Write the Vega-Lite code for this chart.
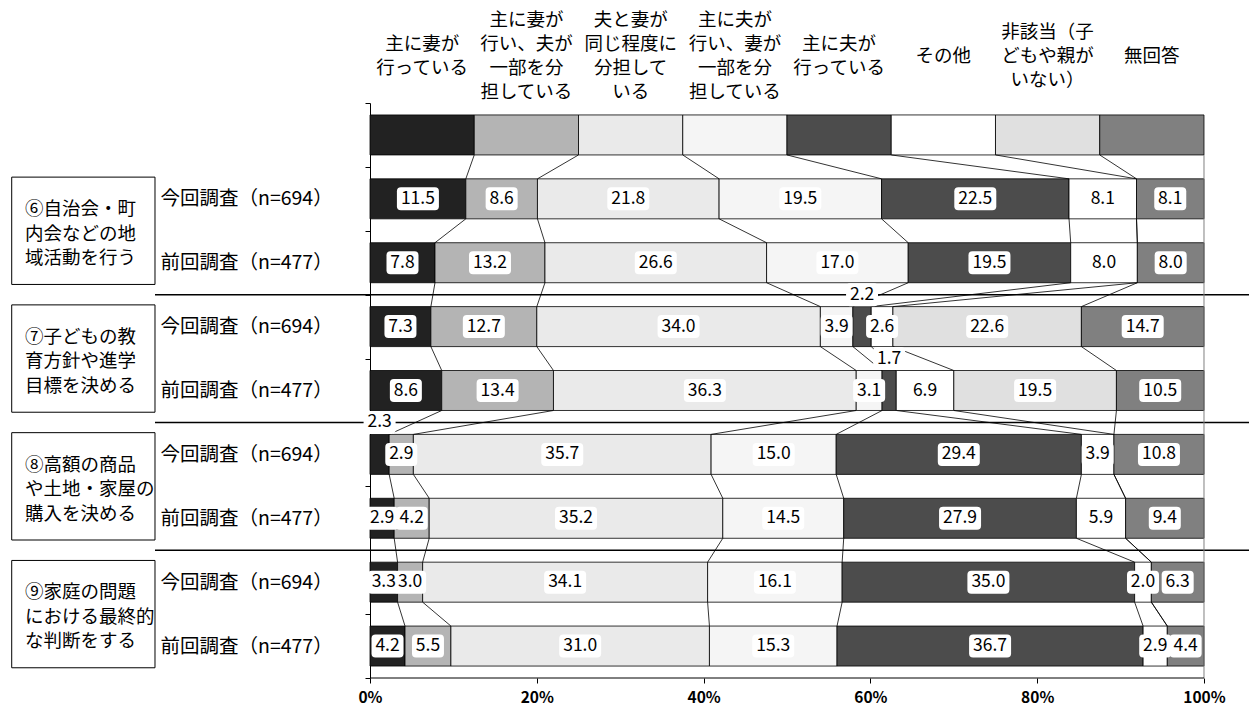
{
  "$schema": "https://vega.github.io/schema/vega-lite/v6.json",
  "width": 1249,
  "height": 575,
  "autosize": {"type": "none"},
  "padding": {"left": 0, "top": 103, "right": 0, "bottom": 35},
  "background": "#ffffff",
  "config": {"view": {"stroke": null}, "font": "Noto Sans CJK JP", "text": {"font": "Noto Sans CJK JP"}, "axis": {"title": null, "grid": false}},
  "datasets": {
    "bars": [
      {"idx": 0, "k": 1, "v": 12.5}, {"idx": 0, "k": 2, "v": 12.5}, {"idx": 0, "k": 3, "v": 12.5}, {"idx": 0, "k": 4, "v": 12.5},
      {"idx": 0, "k": 5, "v": 12.5}, {"idx": 0, "k": 6, "v": 12.5}, {"idx": 0, "k": 7, "v": 12.5}, {"idx": 0, "k": 8, "v": 12.5},
      {"idx": 1, "k": 1, "v": 11.5}, {"idx": 1, "k": 2, "v": 8.6}, {"idx": 1, "k": 3, "v": 21.8}, {"idx": 1, "k": 4, "v": 19.5},
      {"idx": 1, "k": 5, "v": 22.5}, {"idx": 1, "k": 6, "v": 8.1}, {"idx": 1, "k": 7, "v": 0}, {"idx": 1, "k": 8, "v": 8.1},
      {"idx": 2, "k": 1, "v": 7.8}, {"idx": 2, "k": 2, "v": 13.2}, {"idx": 2, "k": 3, "v": 26.6}, {"idx": 2, "k": 4, "v": 17.0},
      {"idx": 2, "k": 5, "v": 19.5}, {"idx": 2, "k": 6, "v": 8.0}, {"idx": 2, "k": 7, "v": 0}, {"idx": 2, "k": 8, "v": 8.0},
      {"idx": 3, "k": 1, "v": 7.3}, {"idx": 3, "k": 2, "v": 12.7}, {"idx": 3, "k": 3, "v": 34.0}, {"idx": 3, "k": 4, "v": 3.9},
      {"idx": 3, "k": 5, "v": 2.2}, {"idx": 3, "k": 6, "v": 2.6}, {"idx": 3, "k": 7, "v": 22.6}, {"idx": 3, "k": 8, "v": 14.7},
      {"idx": 4, "k": 1, "v": 8.6}, {"idx": 4, "k": 2, "v": 13.4}, {"idx": 4, "k": 3, "v": 36.3}, {"idx": 4, "k": 4, "v": 3.1},
      {"idx": 4, "k": 5, "v": 1.7}, {"idx": 4, "k": 6, "v": 6.9}, {"idx": 4, "k": 7, "v": 19.5}, {"idx": 4, "k": 8, "v": 10.5},
      {"idx": 5, "k": 1, "v": 2.3}, {"idx": 5, "k": 2, "v": 2.9}, {"idx": 5, "k": 3, "v": 35.7}, {"idx": 5, "k": 4, "v": 15.0},
      {"idx": 5, "k": 5, "v": 29.4}, {"idx": 5, "k": 6, "v": 3.9}, {"idx": 5, "k": 7, "v": 0}, {"idx": 5, "k": 8, "v": 10.8},
      {"idx": 6, "k": 1, "v": 2.9}, {"idx": 6, "k": 2, "v": 4.2}, {"idx": 6, "k": 3, "v": 35.2}, {"idx": 6, "k": 4, "v": 14.5},
      {"idx": 6, "k": 5, "v": 27.9}, {"idx": 6, "k": 6, "v": 5.9}, {"idx": 6, "k": 7, "v": 0}, {"idx": 6, "k": 8, "v": 9.4},
      {"idx": 7, "k": 1, "v": 3.3}, {"idx": 7, "k": 2, "v": 3.0}, {"idx": 7, "k": 3, "v": 34.1}, {"idx": 7, "k": 4, "v": 16.1},
      {"idx": 7, "k": 5, "v": 35.0}, {"idx": 7, "k": 6, "v": 2.0}, {"idx": 7, "k": 7, "v": 0}, {"idx": 7, "k": 8, "v": 6.3},
      {"idx": 8, "k": 1, "v": 4.2}, {"idx": 8, "k": 2, "v": 5.5}, {"idx": 8, "k": 3, "v": 31.0}, {"idx": 8, "k": 4, "v": 15.3},
      {"idx": 8, "k": 5, "v": 36.7}, {"idx": 8, "k": 6, "v": 2.9}, {"idx": 8, "k": 7, "v": 0}, {"idx": 8, "k": 8, "v": 4.4}
    ],
    "cats": [
      {"k": 1, "h": ["主に妻が", "行っている"]},
      {"k": 2, "h": ["主に妻が", "行い、夫が", "一部を分", "担している"]},
      {"k": 3, "h": ["夫と妻が", "同じ程度に", "分担して", "いる"]},
      {"k": 4, "h": ["主に夫が", "行い、妻が", "一部を分", "担している"]},
      {"k": 5, "h": ["主に夫が", "行っている"]},
      {"k": 6, "h": ["その他"]},
      {"k": 7, "h": ["非該当（子", "どもや親が", "いない）"]},
      {"k": 8, "h": ["無回答"]}
    ],
    "groups": [
      {"first": 1, "t": ["⑥自治会・町", "内会などの地", "域活動を行う"]},
      {"first": 3, "t": ["⑦子どもの教", "育方針や進学", "目標を決める"]},
      {"first": 5, "t": ["⑧高額の商品", "や土地・家屋の", "購入を決める"]},
      {"first": 7, "t": ["⑨家庭の問題", "における最終的", "な判断をする"]}
    ]
  },
  "layer": [
    {
      "data": {"name": "bars"},
      "transform": [
        {"stack": "v", "groupby": ["idx"], "sort": [{"field": "k", "order": "ascending"}], "offset": "normalize", "as": ["s0", "s1"]},
        {"calculate": "datum.s0 * 100", "as": "a0"},
        {"calculate": "datum.s1 * 100", "as": "a1"},
        {"calculate": "datum.idx - 0.313", "as": "yt"},
        {"calculate": "datum.idx + 0.313", "as": "yb"},
        {"filter": "datum.v > 0"}
      ],
      "mark": {"type": "rect", "stroke": "#000000", "strokeWidth": 0.8},
      "encoding": {
        "x": {"field": "a0", "type": "quantitative",
          "scale": {"domain": [-44.365, 105.396], "nice": false, "zero": false},
          "axis": {"values": [0, 20, 40, 60, 80, 100], "labelExpr": "datum.value + '%'", "domain": false, "grid": false,
            "ticks": true, "tickSize": 5, "tickColor": "#000000", "labelFontSize": 15.5, "labelFontWeight": "bold", "labelFont": "Noto Sans CJK JP",
            "labelColor": "#000000", "labelPadding": 7, "title": null, "labelFlush": false, "labelOverlap": false}},
        "x2": {"field": "a1"},
        "y": {"field": "yt", "type": "quantitative",
          "scale": {"domain": [-0.5, 8.5], "reverse": true, "nice": false, "zero": false},
          "axis": {"values": [-0.5, 0.5, 1.5, 2.5, 3.5, 4.5, 5.5, 6.5, 7.5, 8.5], "offset": -370, "domain": true,
            "domainColor": "#000000", "tickSize": 5, "tickColor": "#000000", "grid": false, "title": null,
            "labelExpr": "datum.value < 0 || datum.value > 8 ? '' : ((datum.value + 0.5) % 2 == 1 ? '今回調査（n=694）' : '前回調査（n=477）')",
            "labelAlign": "left", "labelBaseline": "middle", "labelOffset": 32, "labelPadding": 205,
            "labelFontSize": 19.5, "labelFont": "Noto Sans CJK JP", "labelColor": "#000000",
            "labelBound": false, "labelFlush": false, "labelOverlap": false}},
        "y2": {"field": "yb"},
        "fill": {"field": "k", "type": "nominal",
          "scale": {"domain": [1, 2, 3, 4, 5, 6, 7, 8], "range": ["#222222", "#b4b4b4", "#eaeaea", "#f5f5f5", "#4c4c4c", "#ffffff", "#e0e0e0", "#808080"]},
          "legend": null}
      }
    },
    {
      "data": {"name": "bars"},
      "transform": [
        {"stack": "v", "groupby": ["idx"], "sort": [{"field": "k", "order": "ascending"}], "offset": "normalize", "as": ["s0", "s1"]},
        {"calculate": "datum.s1 * 100", "as": "a1"},
        {"window": [{"op": "lead", "field": "a1", "as": "nx"}], "groupby": ["k"], "sort": [{"field": "idx", "order": "ascending"}]},
        {"filter": "datum.nx != null && datum.k < 8"},
        {"calculate": "datum.idx + 0.313", "as": "yb"},
        {"calculate": "datum.idx + 0.687", "as": "yn"}
      ],
      "mark": {"type": "rule", "color": "#000000", "strokeWidth": 0.8},
      "encoding": {
        "x": {"field": "a1", "type": "quantitative", "scale": {"domain": [-44.365, 105.396], "nice": false, "zero": false}},
        "x2": {"field": "nx"},
        "y": {"field": "yb", "type": "quantitative", "scale": {"domain": [-0.5, 8.5], "reverse": true, "nice": false, "zero": false}},
        "y2": {"field": "yn"}
      }
    },
    {
      "data": {"name": "groups"},
      "transform": [{"filter": "datum.first > 1"}, {"calculate": "datum.first - 0.5", "as": "sy"}],
      "mark": {"type": "rule", "color": "#000000", "strokeWidth": 1.5},
      "encoding": {
        "x": {"datum": -25.78, "type": "quantitative", "scale": {"domain": [-44.365, 105.396], "nice": false, "zero": false}},
        "x2": {"datum": 105.396},
        "y": {"field": "sy", "type": "quantitative", "scale": {"domain": [-0.5, 8.5], "reverse": true, "nice": false, "zero": false}}
      }
    },
    {
      "data": {"values": [{}]},
      "mark": {"type": "rule", "color": "#808080", "strokeWidth": 1},
      "encoding": {
        "x": {"datum": 100, "type": "quantitative", "scale": {"domain": [-44.365, 105.396], "nice": false, "zero": false}},
        "y": {"datum": 0.313, "type": "quantitative", "scale": {"domain": [-0.5, 8.5], "reverse": true, "nice": false, "zero": false}},
        "y2": {"datum": 8.5}
      }
    },
    {
      "data": {"values": [{}]},
      "mark": {"type": "rule", "color": "#000000", "strokeWidth": 1},
      "encoding": {
        "x": {"datum": 0, "type": "quantitative", "scale": {"domain": [-44.365, 105.396], "nice": false, "zero": false}},
        "x2": {"datum": 100},
        "y": {"datum": 8.5, "type": "quantitative", "scale": {"domain": [-0.5, 8.5], "reverse": true, "nice": false, "zero": false}}
      }
    },
    {
      "data": {"name": "groups"},
      "transform": [{"calculate": "datum.first - 0.34", "as": "gy0"}, {"calculate": "datum.first + 1.34", "as": "gy1"}],
      "mark": {"type": "rect", "fill": "#ffffff", "stroke": "#000000", "strokeWidth": 1},
      "encoding": {
        "x": {"datum": -42.96, "type": "quantitative", "scale": {"domain": [-44.365, 105.396], "nice": false, "zero": false}},
        "x2": {"datum": -25.78},
        "y": {"field": "gy0", "type": "quantitative", "scale": {"domain": [-0.5, 8.5], "reverse": true, "nice": false, "zero": false}},
        "y2": {"field": "gy1"}
      }
    },
    {
      "data": {"name": "groups"},
      "transform": [{"calculate": "datum.first + 0.16", "as": "ty"}],
      "mark": {"type": "text", "align": "left", "baseline": "middle", "fontSize": 18.5, "lineHeight": 24.5, "color": "#000000"},
      "encoding": {
        "x": {"datum": -41.37, "type": "quantitative", "scale": {"domain": [-44.365, 105.396], "nice": false, "zero": false}},
        "y": {"field": "ty", "type": "quantitative", "scale": {"domain": [-0.5, 8.5], "reverse": true, "nice": false, "zero": false}},
        "text": {"field": "t", "type": "nominal"}
      }
    },
    {
      "data": {"name": "bars"},
      "transform": [
        {"stack": "v", "groupby": ["idx"], "sort": [{"field": "k", "order": "ascending"}], "offset": "normalize", "as": ["s0", "s1"]},
        {"calculate": "(datum.s0 + datum.s1) * 50", "as": "mid"},
        {"filter": "datum.idx > 0 && datum.v > 0"},
        {"calculate": "(datum.v <= 2.3 && datum.k != 6) ? datum.idx - 0.5 : datum.idx", "as": "ly"}
      ],
      "mark": {"type": "point", "filled": true, "fill": "#ffffff", "strokeWidth": 0, "opacity": 1, "size": 400},
      "encoding": {
        "x": {"field": "mid", "type": "quantitative", "scale": {"domain": [-44.365, 105.396], "nice": false, "zero": false}},
        "y": {"field": "ly", "type": "quantitative", "scale": {"domain": [-0.5, 8.5], "reverse": true, "nice": false, "zero": false}},
        "shape": {
          "condition": {"test": "datum.v >= 10", "value": "M-1.7,-1.15L1.7,-1.15Q2.1,-1.15 2.1,-0.75L2.1,0.75Q2.1,1.15 1.7,1.15L-1.7,1.15Q-2.1,1.15 -2.1,0.75L-2.1,-0.75Q-2.1,-1.15 -1.7,-1.15Z"},
          "value": "M-1.2,-1.15L1.2,-1.15Q1.6,-1.15 1.6,-0.75L1.6,0.75Q1.6,1.15 1.2,1.15L-1.2,1.15Q-1.6,1.15 -1.6,0.75L-1.6,-0.75Q-1.6,-1.15 -1.2,-1.15Z"
        }
      }
    },
    {
      "data": {"name": "bars"},
      "transform": [
        {"stack": "v", "groupby": ["idx"], "sort": [{"field": "k", "order": "ascending"}], "offset": "normalize", "as": ["s0", "s1"]},
        {"calculate": "(datum.s0 + datum.s1) * 50", "as": "mid"},
        {"filter": "datum.idx > 0 && datum.v > 0"},
        {"calculate": "(datum.v <= 2.3 && datum.k != 6) ? datum.idx - 0.5 : datum.idx", "as": "ly"}
      ],
      "mark": {"type": "text", "align": "center", "baseline": "middle", "fontSize": 17.5, "color": "#000000"},
      "encoding": {
        "x": {"field": "mid", "type": "quantitative", "scale": {"domain": [-44.365, 105.396], "nice": false, "zero": false}},
        "y": {"field": "ly", "type": "quantitative", "scale": {"domain": [-0.5, 8.5], "reverse": true, "nice": false, "zero": false}},
        "text": {"field": "v", "type": "quantitative", "format": ".1f"}
      }
    },
    {
      "data": {"name": "bars"},
      "transform": [
        {"filter": "datum.idx == 0"},
        {"stack": "v", "groupby": ["idx"], "sort": [{"field": "k", "order": "ascending"}], "offset": "normalize", "as": ["s0", "s1"]},
        {"calculate": "(datum.s0 + datum.s1) * 50", "as": "mid"},
        {"lookup": "k", "from": {"data": {"name": "cats"}, "key": "k", "fields": ["h"]}},
        {"calculate": "-1.235 - (length(datum.h) - 1) * 0.1878", "as": "hy"}
      ],
      "mark": {"type": "text", "align": "center", "baseline": "middle", "fontSize": 18.5, "lineHeight": 24, "color": "#000000"},
      "encoding": {
        "x": {"field": "mid", "type": "quantitative", "scale": {"domain": [-44.365, 105.396], "nice": false, "zero": false}},
        "y": {"field": "hy", "type": "quantitative", "scale": {"domain": [-0.5, 8.5], "reverse": true, "nice": false, "zero": false}},
        "text": {"field": "h", "type": "nominal"}
      }
    }
  ]
}
